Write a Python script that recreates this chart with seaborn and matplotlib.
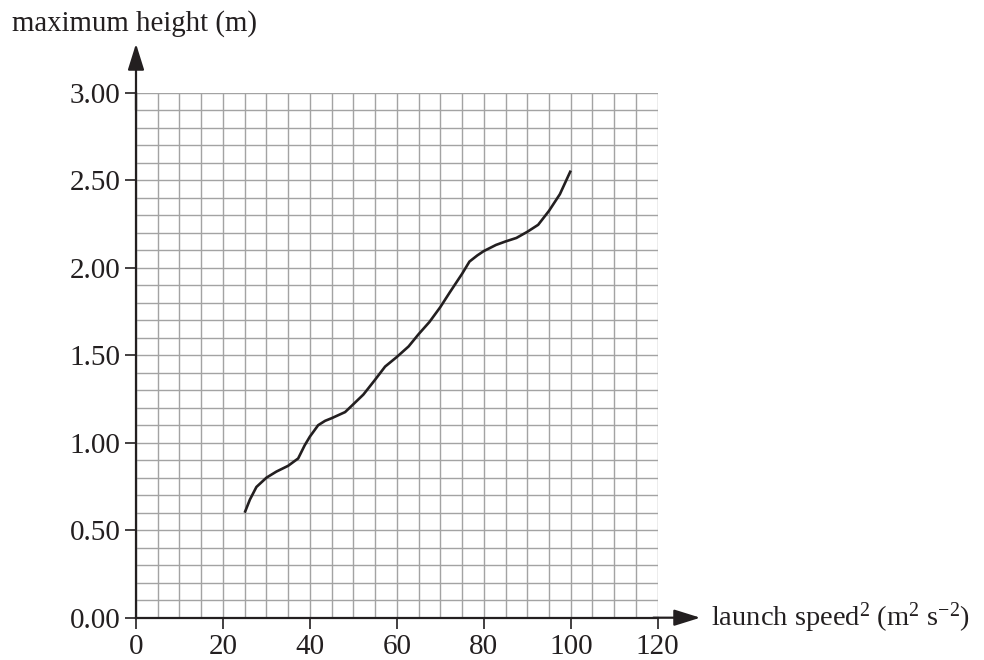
import numpy as np
import matplotlib
matplotlib.use("Agg")
import matplotlib.pyplot as plt
import seaborn as sns

# values
speed_sq = [25, 26.2, 27.7, 30, 32.3, 35, 37.3, 38.8, 40, 41.9, 43.5, 45, 48.1,
            50, 52.3, 55, 57.3, 60, 62.7, 65, 67.5, 70, 72.2, 75, 76.7, 78.5,
            80, 82.8, 85, 87.5, 90, 92.5, 95, 97.5, 100]
max_height = [0.60, 0.675, 0.747, 0.80, 0.835, 0.868, 0.91, 0.985, 1.035, 1.10,
              1.125, 1.14, 1.175, 1.22, 1.275, 1.36, 1.435, 1.49, 1.55, 1.62,
              1.69, 1.775, 1.86, 1.965, 2.035, 2.07, 2.095, 2.13, 2.15, 2.17,
              2.205, 2.245, 2.325, 2.42, 2.555]

x_ticks = [0, 20, 40, 60, 80, 100, 120]
y_ticks = [0.0, 0.5, 1.0, 1.5, 2.0, 2.5, 3.0]

sns.set_theme(style="white")
plt.rcParams['font.family'] = ['Liberation Serif', 'DejaVu Serif']
plt.rcParams['mathtext.fontset'] = 'custom'
plt.rcParams['mathtext.rm'] = 'Liberation Serif'
plt.rcParams['mathtext.it'] = 'Liberation Serif:italic'

fig = plt.figure(figsize=(9.84, 6.6), dpi=100)
ax = fig.add_axes([136 / 984, 1 - 617.7 / 660, 521.7 / 984, 525 / 660])

sns.lineplot(x=speed_sq, y=max_height, color='#231f20', lw=1.9, ax=ax, zorder=5,
             solid_joinstyle='round', solid_capstyle='butt')

ax.set_xlim(0, 120)
ax.set_ylim(0, 3)
ax.set_xticks(x_ticks)
ax.set_yticks(y_ticks)
ax.set_yticklabels([f"{v:.2f}" for v in y_ticks])
ax.set_xticks(np.arange(0, 121, 5), minor=True)
ax.set_yticks(np.arange(0, 3.01, 0.1), minor=True)
ax.grid(which='both', color='#a3a3a3', lw=1.0)
ax.set_axisbelow(True)

ax.tick_params(which='major', direction='out', length=8, width=1.2, color='#231f20',
               labelsize=21, labelcolor='#231f20', bottom=True, left=True)
ax.tick_params(axis='x', pad=4)
ax.tick_params(axis='y', pad=3)
ax.tick_params(which='minor', length=0)

for s in ['top', 'right']:
    ax.spines[s].set_visible(False)
for s in ['left', 'bottom']:
    ax.spines[s].set_color('#231f20')
    ax.spines[s].set_linewidth(1.6)
    ax.spines[s].set_zorder(6)

arrow = dict(arrowstyle='-|>,head_length=0.8,head_width=0.25', color='#231f20',
             lw=1.6, mutation_scale=20, shrinkA=0, shrinkB=0)
ax.annotate('', xy=(129.8, 0), xytext=(119, 0), arrowprops=arrow,
            annotation_clip=False)
ax.annotate('', xy=(0, 3.28), xytext=(0, 2.9), arrowprops=arrow,
            annotation_clip=False)

ax.text(132.3, 0, r'launch speed$^2$ (m$^2$ s$^{-2}$)', fontsize=20.5,
        color='#231f20', va='center', ha='left', clip_on=False)
fig.text(12 / 984, 1 - 31 / 660, 'maximum height (m)', fontsize=20.8,
         color='#231f20', va='baseline', ha='left')

ax.set_xlabel('')
ax.set_ylabel('')

fig.savefig('out.png', dpi=100)
